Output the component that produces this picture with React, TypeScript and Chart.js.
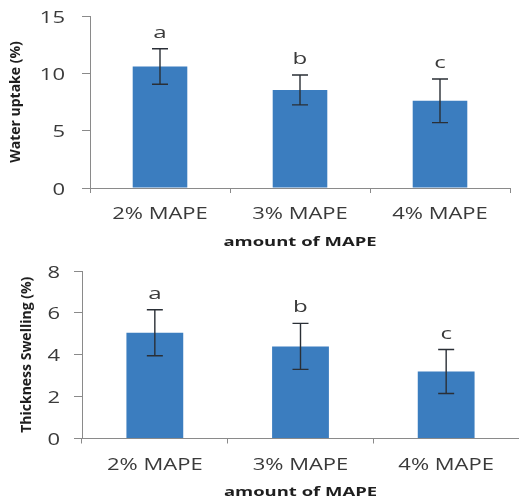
import React, { useEffect, useRef } from "react";
import { Chart, registerables } from "chart.js";

Chart.register(...registerables);

// Shared category axis
const categories = ["2% MAPE", "3% MAPE", "4% MAPE"];
const xAxisTitle = "amount of MAPE";

// Water uptake (%) with standard deviation and significance groups
const waterUptake = [10.6, 8.55, 7.6];
const waterUptakeSd = [1.55, 1.3, 1.9];
const waterUptakeGroups = ["a", "b", "c"];
const waterUptakeTicks = [0, 5, 10, 15];

// Thickness swelling (%) with standard deviation and significance groups
const swelling = [5.05, 4.4, 3.2];
const swellingSd = [1.1, 1.1, 1.05];
const swellingGroups = ["a", "b", "c"];
const swellingTicks = [0, 2, 4, 6, 8];

const BAR = "#3b7dbf";
const AXIS = "#8a8a8a";
const TEXT = "#3a3a3a";
const WIDE = 1.42; // horizontal widening of the label face

type Panel = {
  title: string;
  values: number[];
  sd: number[];
  groups: string[];
  ticks: number[];
  axisWidth: number;
  padTop: number;
  padRight: number;
  xHeight: number;
  labelRight: number;
  titlePad: number;
};

function wideText(ctx: CanvasRenderingContext2D, text: string, x: number, y: number, align: CanvasTextAlign) {
  ctx.save();
  ctx.translate(x, y);
  ctx.scale(WIDE, 1);
  ctx.textAlign = align;
  ctx.textBaseline = "alphabetic";
  ctx.fillText(text, 0, 0);
  ctx.restore();
}

function makePlugin(p: Panel) {
  return {
    id: "panelDecor",
    afterDatasetsDraw(chart: any) {
      const ctx: CanvasRenderingContext2D = chart.ctx;
      const y = chart.scales.y;
      const meta = chart.getDatasetMeta(0);
      meta.data.forEach((bar: any, i: number) => {
        const v = p.values[i];
        const e = p.sd[i];
        const top = y.getPixelForValue(v + e);
        const bot = y.getPixelForValue(v - e);
        const x = bar.x;
        ctx.save();
        ctx.strokeStyle = "#2a2f36";
        ctx.lineWidth = 1.4;
        ctx.beginPath();
        ctx.moveTo(x, top);
        ctx.lineTo(x, bot);
        ctx.moveTo(x - 8, top);
        ctx.lineTo(x + 8, top);
        ctx.moveTo(x - 8, bot);
        ctx.lineTo(x + 8, bot);
        ctx.stroke();
        ctx.fillStyle = TEXT;
        ctx.font = '17px "Open Sans"';
        wideText(ctx, p.groups[i], x, top - 11, "center");
        ctx.restore();
      });
    },
    afterDraw(chart: any) {
      const ctx: CanvasRenderingContext2D = chart.ctx;
      const xs = chart.scales.x;
      const ys = chart.scales.y;
      const area = chart.chartArea;
      ctx.save();
      ctx.fillStyle = TEXT;
      ctx.font = '15.5px "Open Sans"';
      p.ticks.forEach((t) => {
        wideText(ctx, String(t), p.labelRight, ys.getPixelForValue(t) + 6.5, "right");
      });
      categories.forEach((c, i) => {
        wideText(ctx, c, xs.getPixelForTick(i), area.bottom + 31, "center");
      });
      ctx.fillStyle = "#1e1e1e";
      ctx.font = 'bold 13px "Open Sans"';
      wideText(ctx, xAxisTitle, (area.left + area.right) / 2, area.bottom + 57.5, "center");
      ctx.restore();
    },
  };
}

function BarPanel({ p, top }: { p: Panel; top: number }) {
  const ref = useRef<HTMLCanvasElement>(null);
  useEffect(() => {
    if (!ref.current) return;
    const chart = new Chart(ref.current, {
      type: "bar",
      data: {
        labels: categories,
        datasets: [
          {
            data: p.values,
            backgroundColor: BAR,
            borderWidth: 0,
            barPercentage: 0.39,
            categoryPercentage: 1,
          },
        ],
      },
      options: {
        animation: false,
        responsive: true,
        maintainAspectRatio: false,
        layout: { padding: { top: p.padTop, right: p.padRight, left: 0, bottom: 0 } },
        plugins: { legend: { display: false }, tooltip: { enabled: false } },
        scales: {
          x: {
            grid: { drawOnChartArea: false, drawTicks: true, tickLength: 5, color: AXIS, offset: true },
            border: { color: AXIS },
            ticks: { color: "rgba(0,0,0,0)" },
            afterFit: (s: any) => {
              s.height = p.xHeight;
            },
          },
          y: {
            min: 0,
            max: p.ticks[p.ticks.length - 1],
            afterBuildTicks: (s: any) => {
              s.ticks = p.ticks.map((v) => ({ value: v }));
            },
            grid: { drawOnChartArea: false, drawTicks: true, tickLength: 8, color: AXIS },
            border: { color: AXIS },
            ticks: { color: "rgba(0,0,0,0)" },
            title: {
              display: true,
              text: p.title,
              color: "#1e1e1e",
              font: { family: "Open Sans", weight: "bold", size: 14, lineHeight: 1 },
              padding: { top: p.titlePad, bottom: 0 },
            },
            afterFit: (s: any) => {
              s.width = p.axisWidth;
            },
          },
        },
      } as any,
      plugins: [makePlugin(p)],
    });
    return () => chart.destroy();
  }, [p]);
  return (
    <div style={{ position: "absolute", left: 0, top, width: 519, height: 250 }}>
      <canvas ref={ref} />
    </div>
  );
}

const upper: Panel = {
  title: "Water uptake (%)",
  values: waterUptake,
  sd: waterUptakeSd,
  groups: waterUptakeGroups,
  ticks: waterUptakeTicks,
  axisWidth: 90,
  padTop: 16,
  padRight: 9,
  xHeight: 62,
  labelRight: 65,
  titlePad: 8.8,
};

const lower: Panel = {
  title: "Thickness Swelling (%)",
  values: swelling,
  sd: swellingSd,
  groups: swellingGroups,
  ticks: swellingTicks,
  axisWidth: 82,
  padTop: 21,
  padRight: 0,
  xHeight: 61.5,
  labelRight: 60,
  titlePad: 19.7,
};

export default function App() {
  return (
    <div
      style={{
        position: "fixed",
        left: 0,
        top: 0,
        width: 519,
        height: 500,
        background: "#ffffff",
        overflow: "hidden",
      }}
    >
      <BarPanel p={upper} top={0} />
      <BarPanel p={lower} top={250} />
    </div>
  );
}
